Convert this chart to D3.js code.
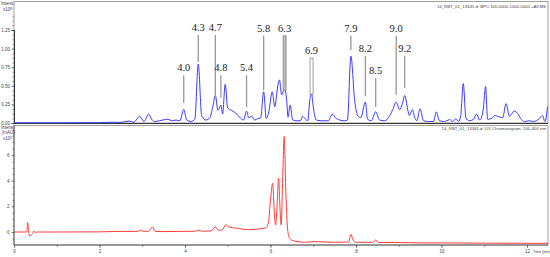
<!DOCTYPE html>
<html>
<head>
<meta charset="utf-8">
<script src="https://cdn.jsdelivr.net/npm/d3@7"></script>
<style>
  body { margin: 0; background: #fff; }
  svg { display: block; }
  .tick text { font-family: "Liberation Sans", Arial, sans-serif; fill: #444; }
  .peak { font-family: "Liberation Serif", "DejaVu Serif", serif; }
</style>
</head>
<body>
<svg id="chart" width="550" height="257"></svg>
<script>
// BPC trace (Intens. x10^8) - time in min
const bpcTime = [0, 0.5, 1.0, 1.5, 2.0, 2.3, 2.5, 2.69, 2.8, 2.94, 3.04, 3.15, 3.22, 3.29, 3.4, 3.48, 3.6, 3.69, 3.79, 3.88,
  3.97, 4.04, 4.14, 4.23, 4.31, 4.39, 4.49, 4.58, 4.65, 4.71, 4.77, 4.84, 4.88, 4.94, 5.0, 5.09, 5.21, 5.33, 5.37, 5.44,
  5.49, 5.56, 5.63, 5.70, 5.77, 5.84, 5.90, 5.96, 6.04, 6.10, 6.17, 6.21, 6.26, 6.33, 6.38, 6.41, 6.46, 6.52, 6.6, 6.7,
  6.75, 6.82, 6.87, 6.92, 6.96, 7.0, 7.07, 7.2, 7.35, 7.45, 7.52, 7.62, 7.73, 7.80, 7.88, 7.97, 8.04, 8.11, 8.22, 8.27,
  8.36, 8.46, 8.55, 8.67, 8.79, 8.86, 8.94, 9.02, 9.08, 9.14, 9.21, 9.25, 9.32, 9.37, 9.42, 9.50, 9.58, 9.7, 9.81, 9.88,
  9.95, 10.07, 10.19, 10.26, 10.33, 10.40, 10.45, 10.51, 10.57, 10.65, 10.75, 10.82, 10.89, 10.94, 10.98, 11.03, 11.08, 11.17, 11.24, 11.36,
  11.43, 11.51, 11.59, 11.64, 11.70, 11.78, 11.85, 11.94, 12.06, 12.13, 12.22, 12.29, 12.36, 12.42, 12.48];
const bpcValue = [0.003, 0.003, 0.003, 0.004, 0.005, 0.01, 0.008, 0.027, 0.01, 0.09, 0.02, 0.12, 0.05, 0.02, 0.03, 0.04, 0.05, 0.03, 0.04, 0.03,
  0.18, 0.04, 0.02, 0.05, 0.79, 0.10, 0.04, 0.07, 0.22, 0.37, 0.17, 0.24, 0.12, 0.52, 0.20, 0.17, 0.12, 0.05, 0.04, 0.16,
  0.07, 0.09, 0.04, 0.06, 0.07, 0.42, 0.06, 0.15, 0.42, 0.22, 0.50, 0.58, 0.38, 0.46, 0.30, 0.08, 0.24, 0.04, 0.03, 0.03,
  0.09, 0.05, 0.03, 0.31, 0.40, 0.22, 0.04, 0.03, 0.03, 0.12, 0.07, 0.04, 0.03, 0.04, 0.90, 0.30, 0.10, 0.07, 0.28, 0.05,
  0.03, 0.15, 0.04, 0.03, 0.10, 0.18, 0.28, 0.18, 0.25, 0.37, 0.18, 0.10, 0.18, 0.08, 0.03, 0.19, 0.03, 0.02, 0.02, 0.15,
  0.03, 0.02, 0.045, 0.02, 0.055, 0.02, 0.10, 0.53, 0.07, 0.03, 0.05, 0.12, 0.04, 0.08, 0.20, 0.49, 0.05, 0.06, 0.10, 0.08,
  0.07, 0.26, 0.09, 0.12, 0.16, 0.13, 0.06, 0.02, 0.03, 0.02, 0.03, 0.06, 0.10, 0.02, 0.22];

// UV chromatogram 200-400 nm (Intens. [mAU] x10^5)
const uvTime = [0, 0.3, 0.32, 0.34, 0.36, 0.40, 0.44, 0.47, 0.50, 0.55, 1.0, 2.0, 2.34, 2.9, 2.96, 3.02, 3.15, 3.24, 3.30, 3.5,
  4.0, 4.24, 4.31, 4.4, 4.6, 4.71, 4.78, 4.88, 4.95, 5.02, 5.2, 5.5, 5.75, 5.88, 5.95, 6.0, 6.05, 6.09, 6.12, 6.15,
  6.19, 6.22, 6.25, 6.28, 6.32, 6.36, 6.40, 6.45, 6.55, 6.8, 7.0, 7.5, 7.83, 7.88, 7.93, 8.0, 8.4, 8.46, 8.52, 9.0,
  9.5, 10.0, 11.0, 12.0, 12.5];
const uvValue = [0, 0, 0.73, 0.2, -0.3, -0.25, -0.1, 0.08, -0.05, 0, 0, 0.01, 0.04, 0.05, 0.15, 0.05, 0.06, 0.39, 0.05, 0.03,
  0.05, 0.06, 0.13, 0.06, 0.08, 0.39, 0.13, 0.18, 0.57, 0.40, 0.30, 0.18, 0.25, 0.32, 0.70, 2.5, 3.79, 1.5, 0.55, 1.8,
  4.2, 2.0, 0.55, 3.5, 7.43, 3.0, 0.2, -0.5, -0.7, -0.8, -0.75, -0.8, -0.78, -0.18, -0.6, -0.8, -0.8, -0.62, -0.82, -0.82,
  -0.85, -0.85, -0.87, -0.88, -0.88];

// peak annotations on the BPC trace
const peakLabels = ["4.0", "4.3", "4.7", "4.8", "5.4", "5.8", "6.3", "6.9", "7.9", "8.2", "8.5", "9.0", "9.2"];
const peakTimes = [3.97, 4.31, 4.71, 4.84, 5.44, 5.84, 6.33, 6.96, 7.88, 8.22, 8.46, 8.94, 9.14];
const labelLevel = [0.75, 1.29, 1.29, 0.75, 0.75, 1.28, 1.28, 0.98, 1.28, 1.01, 0.71, 1.28, 1.01];
const lineEnd = [0.27, 0.82, 0.35, 0.34, 0.215, 0.44, 0.44, 0.39, 0.98, 0.36, 0.215, 0.38, 0.47];

const topTicks = [0, 0.25, 0.5, 0.75, 1.0, 1.25];
const uvTicks = [0, 2, 4, 6];
const timeTicks = [0, 2, 4, 6, 8, 10, 12];

const svg = d3.select("#chart");

const x = d3.scaleLinear().domain([0, 12]).range([14, 527]);
const yTop = d3.scaleLinear().domain([0, 1.25]).range([123, 30]);
const yBot = d3.scaleLinear().domain([0, 6]).range([232, 155]);

const left = 14, right = 548;

// ---- top panel frame
svg.append("rect")
    .attr("x", left).attr("y", 1.5)
    .attr("width", right - left).attr("height", 123 - 1.5)
    .attr("fill", "none").attr("stroke", "#888").attr("stroke-width", 0.8);

// y axis (major + minor)
const gTopAxis = svg.append("g").attr("transform", `translate(${left},0)`);
gTopAxis.call(d3.axisLeft(yTop).tickValues(d3.range(0, 1.5, 0.0625)).tickSize(1.5).tickFormat(""));
gTopAxis.call(g => g.select(".domain").remove());
const gTopMajor = svg.append("g").attr("transform", `translate(${left},0)`)
    .call(d3.axisLeft(yTop).tickValues(topTicks).tickSize(2.5).tickPadding(1.5).tickFormat(d3.format(".2f")));
gTopMajor.select(".domain").attr("stroke", "#333");
gTopMajor.selectAll("text").attr("font-size", 4.5);
svg.selectAll(".tick line").attr("stroke", "#555").attr("stroke-width", 0.6);

svg.append("line")
    .attr("x1", left).attr("x2", right)
    .attr("y1", yTop(0) + 0.5).attr("y2", yTop(0) + 0.5)
    .attr("stroke", "#333").attr("stroke-width", 1);

svg.append("text").attr("x", 1).attr("y", 5).attr("font-size", 4.5)
    .attr("font-family", "Liberation Sans, Arial").attr("fill", "#444").text("Intens.");
svg.append("text").attr("x", 3).attr("y", 11).attr("font-size", 4.5)
    .attr("font-family", "Liberation Sans, Arial").attr("fill", "#444")
    .html('x10<tspan dy="-1.5" font-size="3.5">8</tspan>');

svg.append("text").attr("x", right - 2).attr("y", 8).attr("text-anchor", "end")
    .attr("font-size", 4.3).attr("font-family", "Liberation Sans, Arial").attr("fill", "#444")
    .text("14_RBT_01_13345.d: BPC 100.0000-1000.0000 +All MS");

// BPC trace
const bpc = bpcTime.map((t, i) => [t, bpcValue[i]]);
svg.append("path")
    .datum(bpc)
    .attr("fill", "none")
    .attr("stroke", "#3b3bff")
    .attr("stroke-width", 1)
    .attr("d", d3.line().x(d => x(d[0])).y(d => yTop(d[1])).curve(d3.curveMonotoneX));

// peak labels and leader lines
peakLabels.forEach((lab, i) => {
    const px = x(peakTimes[i]);
    const ty = yTop(labelLevel[i]);
    const y1 = ty + 8, y2 = yTop(lineEnd[i]);
    if (lab === "6.3" || lab === "6.9") {
        svg.append("rect")
            .attr("x", px - 1.5).attr("y", y1)
            .attr("width", 3).attr("height", y2 - y1)
            .attr("fill", lab === "6.3" ? "#bbb" : "#fff")
            .attr("stroke", "#888").attr("stroke-width", 0.8);
    } else {
        svg.append("line")
            .attr("x1", px).attr("x2", px)
            .attr("y1", y1).attr("y2", y2)
            .attr("stroke", "#999").attr("stroke-width", 1.3);
    }
    svg.append("text")
        .attr("class", "peak")
        .attr("x", px).attr("y", ty + 4)
        .attr("text-anchor", "middle")
        .attr("font-size", 10.5)
        .attr("fill", "#222")
        .text(lab);
});

// ---- bottom panel frame
const botTop = 125.5, botBase = 245;
svg.append("line").attr("x1", left).attr("x2", right).attr("y1", botTop).attr("y2", botTop)
    .attr("stroke", "#888").attr("stroke-width", 0.8);
svg.append("line").attr("x1", right).attr("x2", right).attr("y1", botTop).attr("y2", botBase)
    .attr("stroke", "#888").attr("stroke-width", 0.8);

const gBotMinor = svg.append("g").attr("transform", `translate(${left},0)`)
    .call(d3.axisLeft(yBot).tickValues(d3.range(-0.5, 8.5, 0.5)).tickSize(1.5).tickFormat(""));
gBotMinor.select(".domain").remove();
const gBot = svg.append("g").attr("transform", `translate(${left},0)`)
    .call(d3.axisLeft(yBot).tickValues(uvTicks).tickSize(2.5).tickPadding(2).tickFormat(d3.format("d")));
gBot.select(".domain").remove();
gBot.selectAll("text").attr("font-size", 4.5);
svg.append("line").attr("x1", left).attr("x2", left).attr("y1", botTop).attr("y2", botBase)
    .attr("stroke", "#333").attr("stroke-width", 1);

// time axis
const gX = svg.append("g").attr("transform", `translate(0,${botBase})`)
    .call(d3.axisBottom(x).tickValues(d3.range(0, 13, 1)).tickSize(2).tickFormat(""));
gX.select(".domain").remove();
const gXMajor = svg.append("g").attr("transform", `translate(0,${botBase})`)
    .call(d3.axisBottom(x).tickValues(timeTicks).tickSize(3).tickPadding(1.5).tickFormat(d3.format("d")));
gXMajor.select(".domain").remove();
gXMajor.selectAll("text").attr("font-size", 4.5);
svg.selectAll(".tick line").attr("stroke", "#555").attr("stroke-width", 0.6);
svg.append("line").attr("x1", left).attr("x2", right).attr("y1", botBase).attr("y2", botBase)
    .attr("stroke", "#333").attr("stroke-width", 1);

svg.append("text").attr("x", 533).attr("y", 253)
    .attr("font-size", 3.8).attr("font-family", "Liberation Sans, Arial").attr("fill", "#444")
    .text("Time [min]");

svg.append("text").attr("x", 1).attr("y", 129).attr("font-size", 4.5)
    .attr("font-family", "Liberation Sans, Arial").attr("fill", "#444").text("Intens.");
svg.append("text").attr("x", 2).attr("y", 134).attr("font-size", 4.5)
    .attr("font-family", "Liberation Sans, Arial").attr("fill", "#444").text("[mAU]");
svg.append("text").attr("x", 3).attr("y", 140).attr("font-size", 4.5)
    .attr("font-family", "Liberation Sans, Arial").attr("fill", "#444")
    .html('x10<tspan dy="-1.5" font-size="3.5">5</tspan>');

svg.append("text").attr("x", right - 2).attr("y", 130).attr("text-anchor", "end")
    .attr("font-size", 4.3).attr("font-family", "Liberation Sans, Arial").attr("fill", "#444")
    .text("14_RBT_01_13345.d: UV Chromatogram, 200-400 nm");

// UV trace
const uv = uvTime.map((t, i) => [t, uvValue[i]]);
svg.append("path")
    .datum(uv)
    .attr("fill", "none")
    .attr("stroke", "#ff3c3c")
    .attr("stroke-width", 1)
    .attr("d", d3.line().x(d => x(d[0])).y(d => yBot(d[1])).curve(d3.curveMonotoneX));
</script>
</body>
</html>
